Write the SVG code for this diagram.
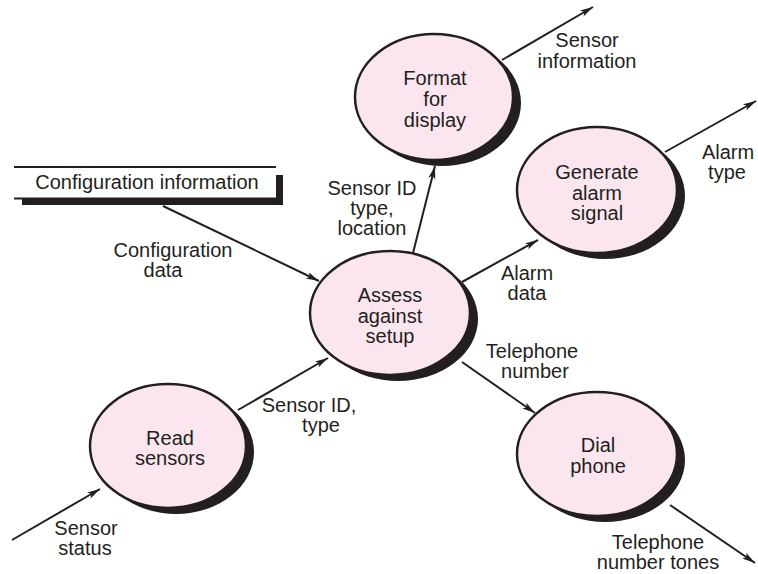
<svg xmlns="http://www.w3.org/2000/svg" width="758" height="574" viewBox="0 0 758 574">
<defs>
<marker id="arr" markerUnits="userSpaceOnUse" markerWidth="14" markerHeight="8" refX="13" refY="3.5" orient="auto">
<path d="M0,0 L13,3.5 L0,7 L3,3.5 z" fill="#231f20"/>
</marker>
</defs>
<style>
text{font-family:"Liberation Sans",Arial,sans-serif;font-size:20px;fill:#231f20;text-anchor:middle}
.proc{fill:#fbe6ef;stroke:#231f20;stroke-width:2.5}
.shadow{fill:#231f20}
.flow{stroke:#231f20;stroke-width:2;fill:none;marker-end:url(#arr)}
</style>
<rect width="758" height="574" fill="#ffffff"/>

<g id="connectors">
<line class="flow" x1="163" y1="206" x2="319" y2="281"/>
<line class="flow" x1="238" y1="410" x2="328" y2="358"/>
<line class="flow" x1="12" y1="540" x2="100" y2="489"/>
<line class="flow" x1="413" y1="253" x2="435" y2="166"/>
<line class="flow" x1="502" y1="60" x2="593" y2="7"/>
<line class="flow" x1="462" y1="282" x2="538" y2="240"/>
<line class="flow" x1="665" y1="152" x2="756" y2="101"/>
<line class="flow" x1="462" y1="362" x2="535" y2="413"/>
<line class="flow" x1="670" y1="505" x2="755" y2="563"/>
</g>

<g id="labels">
<text x="173" y="257">Configuration</text>
<text x="163" y="277">data</text>
<text x="309" y="412">Sensor ID,</text>
<text x="321" y="432">type</text>
<text x="86" y="535">Sensor</text>
<text x="85" y="555">status</text>
<text x="372" y="195">Sensor ID</text>
<text x="372" y="215">type,</text>
<text x="372" y="235">location</text>
<text x="587" y="47">Sensor</text>
<text x="587" y="68">information</text>
<text x="527" y="280">Alarm</text>
<text x="527" y="300">data</text>
<text x="728" y="159">Alarm</text>
<text x="727" y="179">type</text>
<text x="532" y="358">Telephone</text>
<text x="535" y="378">number</text>
<text x="658" y="549">Telephone</text>
<text x="658" y="569">number tones</text>
</g>

<g id="store-config">
<polygon class="shadow" points="276,175 283,175 283,205 22,205 22,198 276,198"/>
<line x1="14" y1="167" x2="276" y2="167" stroke="#231f20" stroke-width="2"/>
<line x1="14" y1="198.5" x2="276" y2="198.5" stroke="#231f20" stroke-width="2"/>
<text x="147" y="189">Configuration information</text>
</g>

<g id="node-format">
<ellipse class="shadow" cx="442" cy="103" rx="79" ry="63"/>
<ellipse class="proc" cx="434" cy="97" rx="79" ry="63"/>
<text x="435" y="85">Format</text>
<text x="435" y="106">for</text>
<text x="435" y="127">display</text>
</g>

<g id="node-generate">
<ellipse class="shadow" cx="605" cy="196" rx="80" ry="63"/>
<ellipse class="proc" cx="597" cy="190" rx="80" ry="63"/>
<text x="597" y="179">Generate</text>
<text x="597" y="200">alarm</text>
<text x="597" y="220">signal</text>
</g>

<g id="node-assess">
<ellipse class="shadow" cx="398" cy="319" rx="80" ry="62"/>
<ellipse class="proc" cx="390" cy="313" rx="80" ry="62"/>
<text x="390" y="302">Assess</text>
<text x="390" y="323">against</text>
<text x="390" y="343">setup</text>
</g>

<g id="node-read">
<ellipse class="shadow" cx="176" cy="452" rx="78" ry="62"/>
<ellipse class="proc" cx="168" cy="446" rx="78" ry="62"/>
<text x="170" y="445">Read</text>
<text x="170" y="465">sensors</text>
</g>

<g id="node-dial">
<ellipse class="shadow" cx="605" cy="460" rx="80" ry="62"/>
<ellipse class="proc" cx="597" cy="454" rx="80" ry="62"/>
<text x="598" y="452">Dial</text>
<text x="598" y="473">phone</text>
</g>
</svg>
